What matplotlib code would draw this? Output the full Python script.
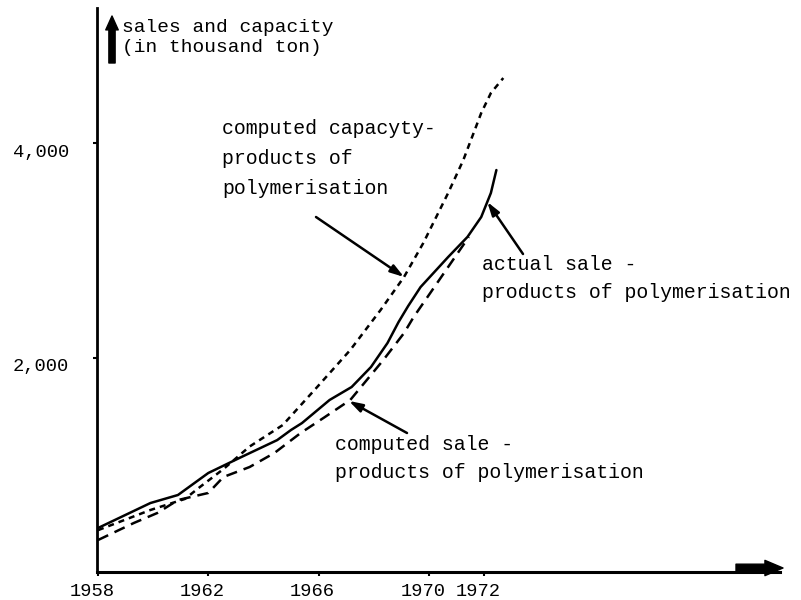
import numpy as np
import matplotlib
matplotlib.use("Agg")
import matplotlib.pyplot as plt
from matplotlib.transforms import ScaledTranslation

# ---- data (years, thousand tons) ----
actual_years = [1958.0, 1959.9, 1960.9, 1962.0, 1963.2, 1964.5, 1965.0, 1965.4, 1966.4,
                1967.2, 1967.9, 1968.5, 1968.9, 1969.25, 1969.7, 1970.7, 1971.4, 1971.9,
                1972.25, 1972.45]
actual_sale = [410, 643, 718, 923, 1072, 1230, 1324, 1389, 1604,
               1725, 1911, 2135, 2330, 2480, 2657, 2937, 3124, 3310,
               3534, 3748]

comp_years = [1958.0, 1959.3, 1960.15, 1960.9, 1962.0, 1962.55, 1963.5, 1964.4, 1965.35,
              1966.2, 1967.15, 1968.35, 1969.1, 1969.45, 1970.05, 1970.7, 1971.45]
computed_sale = [298, 457, 550, 671, 737, 886, 979, 1110, 1296,
                 1440, 1604, 1977, 2228, 2378, 2601, 2844, 3124]

cap_years = [1958.0, 1959.9, 1961.15, 1961.7, 1962.55, 1963.5, 1964.7, 1965.95, 1967.15,
             1968.25, 1969.1, 1969.8, 1970.7, 1971.25, 1971.9, 1972.25, 1972.7]
capacity = [390, 578, 681, 793, 960, 1170, 1370, 1725, 2070,
            2443, 2751, 3068, 3534, 3841, 4280, 4466, 4606]

year_ticks = [1958, 1962, 1966, 1970, 1972]
year_labels = ["1958", "1962", "1966", "1970", "1972"]
value_ticks = [2000, 4000]
value_labels = ["2,000", "4,000"]

MONO = ["Liberation Mono", "DejaVu Sans Mono"]

W, H = 801, 600
fig = plt.figure(figsize=(W / 100, H / 100), dpi=100)


def fp(x, y):
    return (x / W, 1 - y / H)


ax = fig.add_axes([97 / W, (H - 572) / H, (780 - 97) / W, (572 - 8) / H])
px_per_year = 27.57
ax.set_xlim(1958 - 1 / px_per_year, 1958 + 682 / px_per_year)
ax.set_ylim(0, 5259)

for s in ["top", "right"]:
    ax.spines[s].set_visible(False)
ax.spines["left"].set_linewidth(2.0)
ax.spines["bottom"].set_linewidth(2.2)

lw = 1.8
ax.plot(actual_years, actual_sale, color="black", lw=lw, solid_capstyle="round",
        solid_joinstyle="round")
ax.plot(comp_years, computed_sale, color="black", lw=lw, linestyle=(0, (4.5, 2.8)))
ax.plot(cap_years, capacity, color="black", lw=lw, linestyle=(0, (2.4, 2.0)))

ax.set_xticks(year_ticks)
ax.set_xticklabels(year_labels, fontfamily=MONO, fontsize=13.5)
ax.set_yticks(value_ticks)
ax.set_yticklabels(value_labels, fontfamily=MONO, fontsize=13.5)
ax.tick_params(axis="x", direction="out", length=3, width=1.5, pad=5)
ax.tick_params(axis="y", direction="out", length=3, width=1.5, pad=17)
off = ScaledTranslation(-6 / 100, 0, fig.dpi_scale_trans)
for lab in ax.get_xticklabels():
    lab.set_transform(lab.get_transform() + off)
offy = ScaledTranslation(0, -7 / 100, fig.dpi_scale_trans)
for lab in ax.get_yticklabels():
    lab.set_transform(lab.get_transform() + offy)

# y-axis caption with arrow
fig.text(*fp(122, 27), "sales and capacity", fontfamily=MONO,
         fontsize=14, va="center", ha="left")
fig.text(*fp(122, 47), "(in thousand ton)", fontfamily=MONO,
         fontsize=14, va="center", ha="left")
ax.annotate("", xy=fp(112, 16), xycoords="figure fraction",
            xytext=fp(112, 63), textcoords="figure fraction",
            arrowprops=dict(arrowstyle="simple,head_width=0.9,head_length=1.0,tail_width=0.45",
                            color="black", shrinkA=0, shrinkB=0))

# x-axis arrow
ax.annotate("", xy=fp(783, 568), xycoords="figure fraction",
            xytext=fp(736, 568), textcoords="figure fraction",
            arrowprops=dict(arrowstyle="simple,head_width=1.1,head_length=1.3,tail_width=0.55",
                            color="black", shrinkA=0, shrinkB=0))

tfs = 14.3
fig.text(*fp(222, 128), "computed capacyty-", fontfamily=MONO, fontsize=tfs, va="center")
fig.text(*fp(222, 159), "products of", fontfamily=MONO, fontsize=tfs, va="center")
fig.text(*fp(222, 189), "polymerisation", fontfamily=MONO, fontsize=tfs, va="center")

fig.text(*fp(482, 265), "actual sale -", fontfamily=MONO, fontsize=tfs, va="center")
fig.text(*fp(482, 293), "products of polymerisation", fontfamily=MONO, fontsize=tfs, va="center")

fig.text(*fp(335, 445), "computed sale -", fontfamily=MONO, fontsize=tfs, va="center")
fig.text(*fp(335, 473), "products of polymerisation", fontfamily=MONO, fontsize=tfs, va="center")

arrow_kw = dict(arrowstyle="-|>,head_width=0.25,head_length=0.8", color="black", lw=1.8,
                shrinkA=0, shrinkB=0)
# capacity arrow
ax.annotate("", xy=(cap_years[10], capacity[10]), xycoords="data",
            xytext=fp(316, 217), textcoords="figure fraction", arrowprops=arrow_kw)
# actual sale arrow
tip_x = 1972.12
ax.annotate("", xy=(tip_x, np.interp(tip_x, actual_years, actual_sale)), xycoords="data",
            xytext=fp(523, 254), textcoords="figure fraction", arrowprops=arrow_kw)
# computed sale arrow
tip_x2 = 1967.1
ax.annotate("", xy=(tip_x2, np.interp(tip_x2, comp_years, computed_sale)), xycoords="data",
            xytext=fp(407, 433), textcoords="figure fraction", arrowprops=arrow_kw)

fig.savefig("out.png", dpi=100)
